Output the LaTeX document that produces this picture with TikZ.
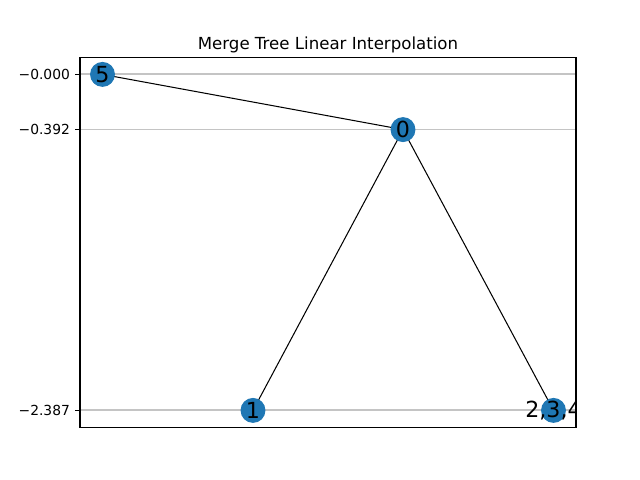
\documentclass[tikz,border=0pt]{standalone}
\usepackage{fontspec}
\setmainfont{DejaVu Sans}
\usepackage{xcolor}
\usepackage{tikz}
\usetikzlibrary{backgrounds}
\definecolor{mplblue}{HTML}{1F77B4}
\definecolor{gridgray}{HTML}{C4C4C4}
\tikzstyle{treenode} = [circle, fill=mplblue, minimum size=18pt, inner sep=0pt]
\tikzstyle{nodelabel} = [font=\fontsize{16}{19}\selectfont, inner sep=0pt]
\tikzstyle{tickmark} = [anchor=east, font=\fontsize{10}{12}\selectfont, inner sep=0pt]
\tikzstyle{gridline} = [gridgray, line width=1.3pt]
\tikzstyle{edge} = [black, line width=0.75pt]

\begin{document}
\begin{tikzpicture}[x=0.01in, y=-0.01in]
\useasboundingbox (0,0) rectangle (640,480);
% axes frame and grid
\coordinate (ax0) at (80,57.6);
\coordinate (ax1) at (576,427.2);
\foreach \yy/\lab in {74.4/0.000, 129.6/0.392, 410.4/2.387} {
  \draw [gridline] (80,\yy) -- (576,\yy);
  \draw [line width=0.8pt] (75.1,\yy) -- (80,\yy);
  \node [tickmark] at (70.2,\yy) {−\lab};
}
\node (title) [anchor=base, font=\fontsize{12}{14}\selectfont, inner sep=0pt] at (328,49.7) {Merge Tree Linear Interpolation};

% tree, clipped to the axes
\begin{scope}
\clip (ax0) rectangle (ax1);
\node (n5) [treenode, label={[nodelabel]center:5}] at (102.5,74.4) {};
\node (n0) [treenode, label={[nodelabel]center:0}] at (403,129.6) {};
\node (n1) [treenode, label={[nodelabel]center:1}] at (253,410.4) {};
\node (n234) [treenode, label={[nodelabel]center:{2,3,4}}] at (553.5,410.4) {};
\begin{pgfonlayer}{background}
\draw [edge] (n5.center) -- (n0.center);
\draw [edge] (n0.center) -- (n1.center);
\draw [edge] (n0.center) -- (n234.center);
\end{pgfonlayer}
\end{scope}
\draw [line width=0.8pt] (ax0) rectangle (ax1);
\end{tikzpicture}
\end{document}
